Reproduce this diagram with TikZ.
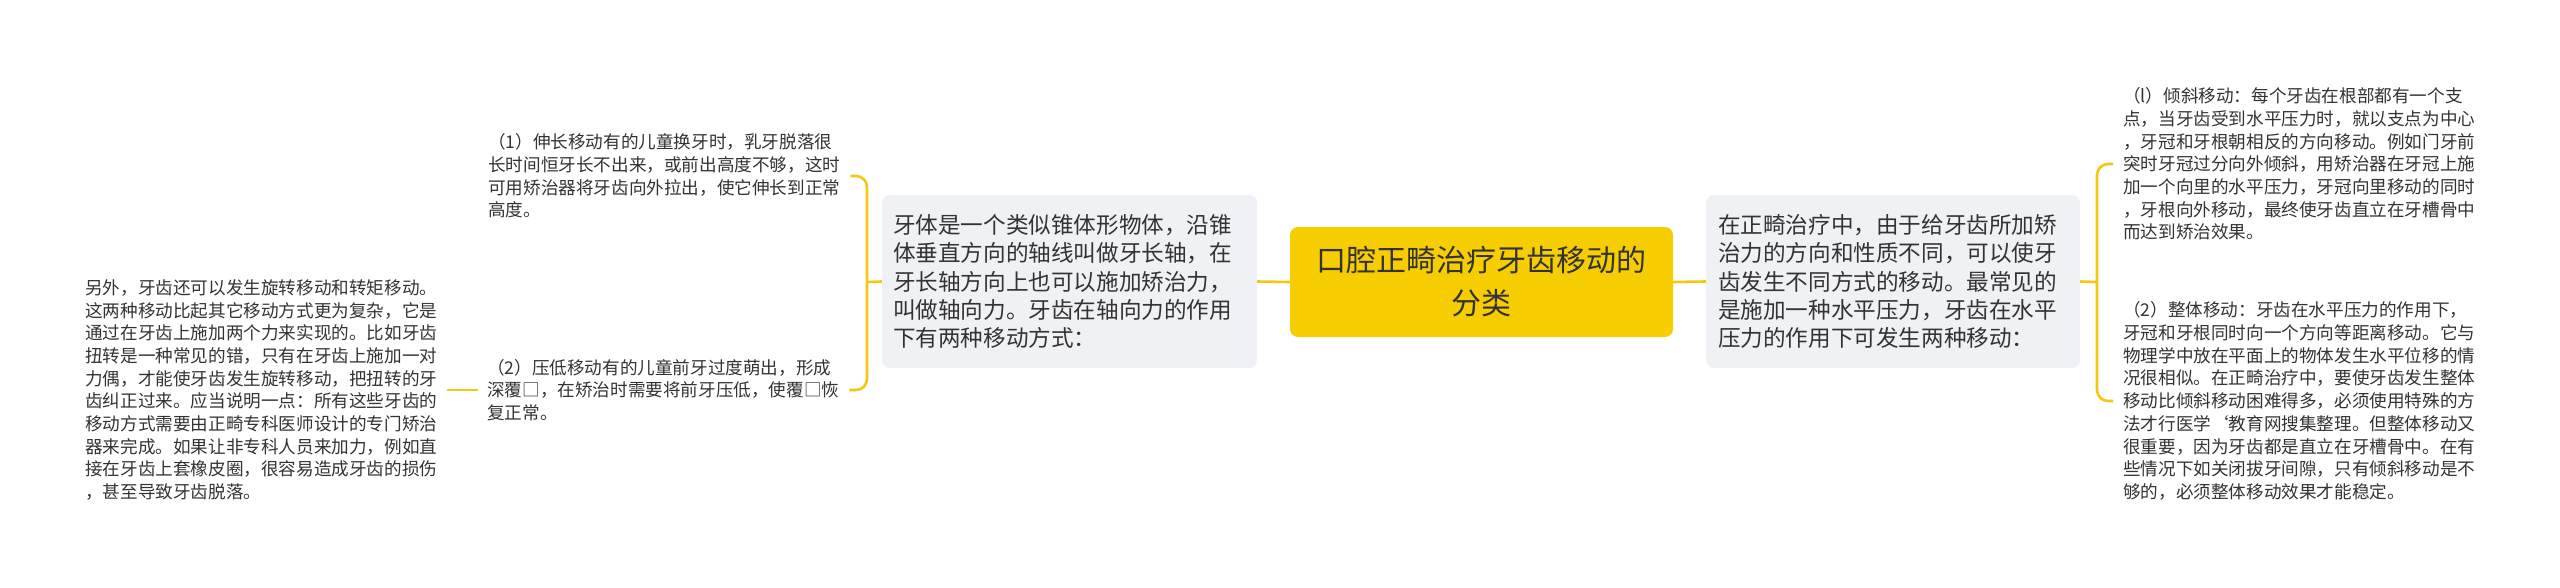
\documentclass[tikz,border=0pt]{standalone}
\usepackage{fontspec}
\setmainfont{Noto Sans CJK SC}
\definecolor{conncol}{HTML}{F2C811}
\definecolor{rootfill}{HTML}{F5CD00}
\definecolor{boxfill}{HTML}{EFF1F4}
\definecolor{txt}{HTML}{333333}
\tikzset{
  conn/.style={draw=conncol, line width=2.6pt, rounded corners=11pt},
  rootbox/.style={fill=rootfill, rounded corners=8pt, minimum width=383pt, minimum height=110pt, align=center, text=txt, font=\fontsize{30}{43}\selectfont, inner sep=0pt},
  graybox/.style={fill=boxfill, rounded corners=8pt, minimum height=173pt, align=left, text=txt, font=\fontsize{22.6}{28.4}\selectfont},
  leaf/.style={anchor=west, align=left, inner sep=0pt, text=txt, font=\fontsize{17.6}{22.7}\selectfont}
}
\begin{document}
\begin{tikzpicture}[x=1pt,y=-1pt]
\useasboundingbox[fill=white] (0,0) rectangle (2560,587);

\node[rootbox] (root) at (1481.5,282) {口腔正畸治疗牙齿移动的\\分类};

\node[graybox, text width=353pt, inner xsep=11pt, minimum width=375pt] (lbox) at (1069.5,281.5)
 {牙体是一个类似锥体形物体，沿锥\\体垂直方向的轴线叫做牙长轴，在\\牙长轴方向上也可以施加矫治力，\\叫做轴向力。牙齿在轴向力的作用\\下有两种移动方式：};

\node[graybox, text width=350pt, inner xsep=12pt, minimum width=374pt] (rbox) at (1893,281.5)
 {在正畸治疗中，由于给牙齿所加矫\\治力的方向和性质不同，可以使牙\\齿发生不同方式的移动。最常见的\\是施加一种水平压力，牙齿在水平\\压力的作用下可发生两种移动：};

\node[leaf] (c1) at (488,176)
 {（1）伸长移动有的儿童换牙时，乳牙脱落很\\长时间恒牙长不出来，或前出高度不够，这时\\可用矫治器将牙齿向外拉出，使它伸长到正常\\高度。};

\node[leaf] (c2) at (487,390)
 {（2）压低移动有的儿童前牙过度萌出，形成\\深覆□，在矫治时需要将前牙压低，使覆□恢\\复正常。};

\node[leaf] (c3) at (85,390)
 {另外，牙齿还可以发生旋转移动和转矩移动。\\这两种移动比起其它移动方式更为复杂，它是\\通过在牙齿上施加两个力来实现的。比如牙齿\\扭转是一种常见的错，只有在牙齿上施加一对\\力偶，才能使牙齿发生旋转移动，把扭转的牙\\齿纠正过来。应当说明一点：所有这些牙齿的\\移动方式需要由正畸专科医师设计的专门矫治\\器来完成。如果让非专科人员来加力，例如直\\接在牙齿上套橡皮圈，很容易造成牙齿的损伤\\，甚至导致牙齿脱落。};

\node[leaf] (r1) at (2123,164)
 {（l）倾斜移动：每个牙齿在根部都有一个支\\点，当牙齿受到水平压力时，就以支点为中心\\，牙冠和牙根朝相反的方向移动。例如门牙前\\突时牙冠过分向外倾斜，用矫治器在牙冠上施\\加一个向里的水平压力，牙冠向里移动的同时\\，牙根向外移动，最终使牙齿直立在牙槽骨中\\而达到矫治效果。};

\node[leaf] (r2) at (2123,401)
 {（2）整体移动：牙齿在水平压力的作用下，\\牙冠和牙根同时向一个方向等距离移动。它与\\物理学中放在平面上的物体发生水平位移的情\\况很相似。在正畸治疗中，要使牙齿发生整体\\移动比倾斜移动困难得多，必须使用特殊的方\\法才行医学{\char96}教育网搜集整理。但整体移动又\\很重要，因为牙齿都是直立在牙槽骨中。在有\\些情况下如关闭拔牙间隙，只有倾斜移动是不\\够的，必须整体移动效果才能稳定。};

% connectors
\draw[conn] (root.west) -- (lbox.east);
\draw[conn] (root.east) -- (rbox.west);

\coordinate (lbr) at (867,282);
\draw[conn] (lbox.west) -- (lbr);
\draw[conn] ([xshift=10pt]c1.east) -| (lbr) |- ([xshift=10pt]c2.east);
\draw[conn] ([xshift=-9pt]c2.west) -- ([xshift=10pt]c3.east);

\coordinate (rbr) at (2097,282);
\draw[conn] (rbox.east) -- (rbr);
\draw[conn] ([xshift=-10pt]r1.west) -| (rbr) |- ([xshift=-10pt]r2.west);
\end{tikzpicture}
\end{document}
